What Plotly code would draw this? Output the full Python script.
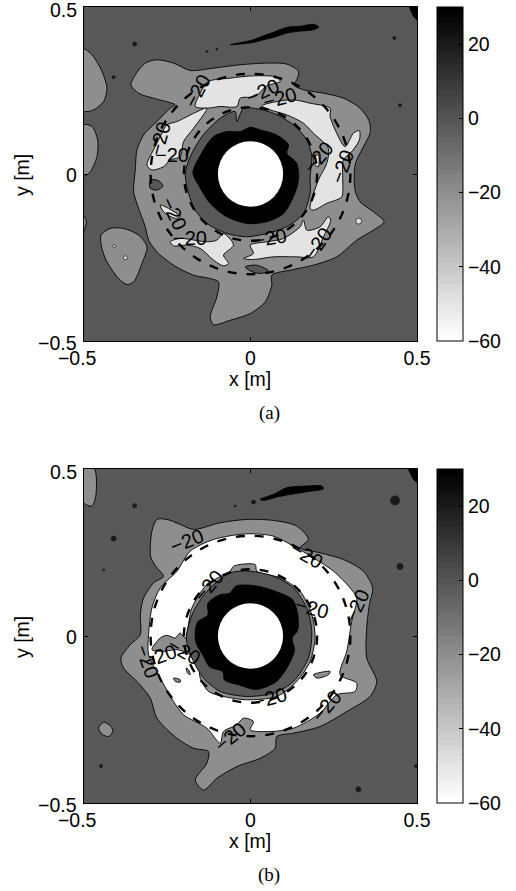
import plotly.graph_objects as go

# Panel (a): origin of the data axes lies at (511, 522); panel (b): at (511, 514).
ORIGIN_A = (511, 522)
ORIGIN_B = (511, 514)

LEVEL_BG = -1
LEVEL_MID = -20
LEVEL_LIGHT = -50
LEVEL_WHITE = -60
LEVEL_DARK = -1
LEVEL_BLACK = 30

a_mid = [(152,255),(165,225),(195,190),(230,180),(280,190),(330,212),(400,205),(480,195),(560,190),(620,193),(655,215),(650,240),(640,255),(670,270),(730,280),(790,295),(840,325),(868,365),(870,400),(850,440),(825,495),(825,570),(840,605),(880,635),(912,665),(880,690),(830,720),(770,770),(700,795),(640,808),(575,825),(575,855),(555,905),(510,940),(450,960),(400,973),(390,950),(410,890),(415,845),(390,835),(340,825),(280,795),(230,755),(205,720),(195,680),(175,625),(160,575),(165,510),(170,450),(190,405),(230,365),(270,325),(285,315),(230,298),(175,280)]
a_lobe1 = [(10,148),(35,165),(65,215),(80,265),(70,305),(40,330),(10,333)]
a_lobe2 = [(10,375),(35,380),(52,420),(50,470),(30,515),(10,528)]
a_lobe3 = [(10,645),(18,665),(10,695)]
a_lobe4 = [(62,705),(90,685),(130,685),(175,705),(200,740),(185,790),(160,845),(140,853),(115,835),(80,785),(65,745)]
a_light1 = [(345,320),(360,280),(385,245),(450,235),(520,228),(590,232),(600,245),(560,258),(525,290),(480,295),(470,320),(420,320),(380,325)]
a_light2 = [(545,318),(590,305),(640,300),(690,310),(750,325),(750,350),(770,400),(795,440),(820,400),(838,392),(838,420),(815,455),(790,480),(788,540),(785,590),(740,610),(700,630),(690,625),(715,540),(740,490),(745,445),(700,400),(670,370),(620,345),(570,330)]
a_light3 = [(200,495),(225,440),(245,400),(260,375),(290,365),(380,325),(340,385),(310,425),(300,470),(270,480),(250,500),(215,510)]
a_light4 = [(240,615),(265,625),(300,650),(285,655),(250,635)]
a_light5 = [(270,725),(300,715),(380,725),(410,720),(430,700),(460,735),(430,765),(445,790),(430,797),(400,780),(360,745),(320,735),(280,737)]
a_light6 = [(510,735),(560,725),(610,715),(660,680),(670,660),(680,690),(720,680),(745,650),(752,660),(730,710),(700,770),(650,770),(580,770),(520,778),(490,775),(520,760)]
a_light7 = [(700,470),(715,465),(715,500),(705,495)]
a_dark_disc = [(315,520),(330,470),(365,410),(420,355),(465,335),(470,365),(490,325),(520,325),(580,340),(640,375),(680,420),(695,470),(690,530),(690,580),(670,640),(620,680),(560,700),(500,710),(440,700),(380,670),(345,630),(325,580)]
a_dark_blob1 = [(495,800),(530,795),(565,812),(540,820),(510,812)]
a_dark_blob2 = [(210,540),(235,542),(248,558),(230,570),(210,565)]
a_black = [(338,518),(370,450),(400,410),(440,395),(480,395),(510,382),(540,390),(590,405),(625,435),(620,460),(650,490),(655,540),(640,590),(610,640),(560,665),(500,670),(440,650),(390,610),(355,555)]
a_streak = [(450,135),(490,127),(520,120),(545,110),(580,98),(620,83),(660,80),(700,74),(716,82),(700,90),(650,95),(620,100),(590,110),(550,120),(520,128)]
a_corner = [(988,22),(1012,22),(1012,62),(1000,50)]
a_black_dots_x = [163,100,380,410,943,960]
a_black_dots_y = [133,232,155,148,115,316]
a_black_dots_s = [4,3,2,2,3,3]
a_white_dots_x = [102,135,836]
a_white_dots_y = [738,773,663]
a_white_dots_s = [3,4,6]

b_mid = [(210,250),(215,200),(230,165),(260,165),(300,180),(340,195),(420,175),(500,165),(580,168),(650,185),(685,225),(660,250),(720,265),(790,285),(850,320),(878,370),(868,420),(860,490),(860,580),(890,650),(870,695),(800,740),(720,785),(640,805),(590,815),(585,850),(540,880),(470,905),(410,940),(370,975),(345,945),(380,895),(385,860),(340,850),(290,820),(230,760),(210,700),(170,650),(130,610),(122,580),(150,540),(180,510),(180,450),(190,400),(220,355),(250,335),(230,310),(212,280)]
b_lobe = [(10,14),(42,14),(47,90),(35,125),(10,115)]
b_ellipse = [(55,790),(70,772),(92,785),(97,800),(85,815),(65,808)]
b_white = [(205,510),(215,430),(240,370),(290,320),(330,260),(400,225),(500,208),(580,215),(640,245),(700,280),(760,320),(810,370),(830,400),(815,470),(800,560),(780,630),(830,655),(825,680),(770,690),(720,745),(640,790),(570,800),(510,795),(520,770),(490,760),(470,780),(430,800),(420,835),(380,790),(310,750),(280,710),(240,640),(205,570)]
b_inner_mid = [(315,520),(335,430),(380,360),(450,320),(460,305),(525,300),(530,320),(600,340),(660,380),(695,450),(705,520),(690,590),(650,650),(590,695),(500,705),(430,695),(385,680),(360,640),(355,600),(330,570),(290,555),(250,560),(215,555),(240,520),(260,512),(285,520),(300,505)]
b_dark_disc = [(318,520),(340,440),(385,375),(450,325),(510,320),(580,335),(640,370),(680,430),(695,500),(685,580),(640,650),(580,685),(500,695),(420,680),(370,640),(335,580)]
b_black = [(345,501),(353,471),(383,451),(383,416),(418,391),(448,386),(468,364),(528,364),(588,381),(638,406),(653,451),(653,496),(636,521),(643,556),(628,596),(588,651),(528,674),(478,661),(433,646),(428,621),(388,606),(368,571),(348,536)]
b_small1 = [(700,630),(750,620),(745,630),(710,640)]
b_small2 = [(280,640),(300,645),(300,652),(285,650)]
b_small3 = [(318,610),(325,615),(330,630),(322,625)]
b_streak = [(540,105),(580,90),(620,70),(680,65),(725,65),(730,73),(680,82),(630,90),(590,98),(550,108)]
b_corner = [(985,14),(1012,14),(1012,55),(1000,45)]
b_black_dots_x = [163,100,70,945,960,835,62,1008,465,520]
b_black_dots_y = [124,222,316,108,306,973,903,903,125,113]
b_black_dots_s = [4,5,2,9,6,5,3,3,2,4]

a_label_x = [352,240,275,550,600,715,785,280,330,570,715]
a_label_y = [275,415,465,275,295,470,500,640,715,715,730]
a_label_angle = [-62,-75,0,-25,-15,-50,-70,65,0,-10,-55]

b_label_x = [320,680,830,385,695,310,240,200,570,740,450]
b_label_y = [230,270,425,365,430,560,575,590,700,725,815]
b_label_angle = [-22,30,-65,-50,15,30,-20,70,-15,-50,-40]

RING_RADII = [0.2, 0.3]
HOLE_RADIUS = 0.098
TICKS = [-0.5, 0, 0.5]
XTICK_TEXT = ["−0.5\u2002\u2009", "0", "0.5"]
YTICK_TEXT = ["−0.5", "0", "0.5"]
YTICK_SHIFT = [-2, -1, -3]
CB_TICKS = [-60, -40, -20, 0, 20]
CB_MIN, CB_MAX = -60, 30
N_COLORS = 64


def gray(level):
    v = round(255 * (CB_MAX - level) / (CB_MAX - CB_MIN))
    return f"rgb({v},{v},{v})"


colorscale = []
for i in range(N_COLORS):
    v = round(255 * (N_COLORS - 1 - i) / (N_COLORS - 1))
    c = f"rgb({v},{v},{v})"
    colorscale += [[i / N_COLORS, c], [(i + 1) / N_COLORS, c]]

fig = go.Figure()
W, H = 516, 891
FONT = "Liberation Sans, Arial, sans-serif"
TICK_SIZE = 19.5


def to_x(vals, o):
    return [(v - o[0]) / 1000 for v in vals]


def to_y(vals, o):
    return [(o[1] - v) / 1000 for v in vals]


def poly(pts, level, o, ax, smooth=True):
    xs = to_x([p[0] for p in pts] + [pts[0][0]], o)
    ys = to_y([p[1] for p in pts] + [pts[0][1]], o)
    fig.add_trace(go.Scatter(
        x=xs, y=ys, xaxis=ax[0], yaxis=ax[1], mode="lines", fill="toself",
        fillcolor=gray(level), hoverinfo="skip", showlegend=False, cliponaxis=True,
        line=dict(color="black", width=0.9, shape="spline" if smooth else "linear", smoothing=0.8)))


def dots(xs, ys, sizes, color, o, ax):
    fig.add_trace(go.Scatter(
        x=to_x(xs, o), y=to_y(ys, o), xaxis=ax[0], yaxis=ax[1], mode="markers", showlegend=False,
        hoverinfo="skip", marker=dict(color=color, size=sizes, line=dict(color="black", width=0.8))))


AX_A = ("x", "y")
AX_B = ("x2", "y2")

for p, lev in [(a_lobe1, LEVEL_MID), (a_lobe2, LEVEL_MID), (a_lobe3, LEVEL_MID), (a_lobe4, LEVEL_MID),
               (a_mid, LEVEL_MID), (a_light1, LEVEL_LIGHT), (a_light2, LEVEL_LIGHT), (a_light3, LEVEL_LIGHT),
               (a_light4, LEVEL_LIGHT), (a_light5, LEVEL_LIGHT), (a_light6, LEVEL_LIGHT), (a_light7, LEVEL_LIGHT),
               (a_dark_blob1, LEVEL_DARK), (a_dark_blob2, LEVEL_DARK), (a_dark_disc, LEVEL_DARK),
               (a_black, LEVEL_BLACK), (a_streak, LEVEL_BLACK)]:
    poly(p, lev, ORIGIN_A, AX_A)
poly(a_corner, LEVEL_BLACK, ORIGIN_A, AX_A, smooth=False)
dots(a_black_dots_x, a_black_dots_y, a_black_dots_s, "black", ORIGIN_A, AX_A)
dots(a_white_dots_x, a_white_dots_y, a_white_dots_s, "white", ORIGIN_A, AX_A)

for p, lev in [(b_lobe, LEVEL_MID), (b_ellipse, LEVEL_MID), (b_mid, LEVEL_MID), (b_white, LEVEL_WHITE),
               (b_inner_mid, LEVEL_MID), (b_dark_disc, LEVEL_DARK), (b_black, LEVEL_BLACK),
               (b_small1, LEVEL_MID), (b_small2, LEVEL_MID), (b_small3, LEVEL_MID), (b_streak, LEVEL_BLACK)]:
    poly(p, lev, ORIGIN_B, AX_B)
poly(b_corner, LEVEL_BLACK, ORIGIN_B, AX_B, smooth=False)
dots(b_black_dots_x, b_black_dots_y, b_black_dots_s, "black", ORIGIN_B, AX_B)

for top, bottom in [(7, 341), (469, 803)]:
    fig.add_trace(go.Scatter(
        x=[None, None], y=[None, None], mode="markers", showlegend=False, hoverinfo="skip",
        marker=dict(color=[CB_MIN, CB_MAX], cmin=CB_MIN, cmax=CB_MAX, colorscale=colorscale, showscale=True,
                    colorbar=dict(x=437 / W, xanchor="left", xpad=0, ypad=0,
                                  y=1 - top / H, yanchor="top", len=(bottom - top) / H, lenmode="fraction",
                                  thickness=26, thicknessmode="pixels", outlinecolor="black", outlinewidth=1,
                                  tickvals=CB_TICKS, ticks="inside", ticklen=4, tickcolor="black",
                                  tickfont=dict(family=FONT, size=TICK_SIZE, color="black"), bgcolor="rgba(0,0,0,0)"))))

shapes = []
for xr, yr in [("x", "y"), ("x2", "y2")]:
    for r in RING_RADII:
        shapes.append(dict(type="circle", xref=xr, yref=yr, x0=-r, x1=r, y0=-r, y1=r, layer="above",
                           line=dict(color="black", width=2.4, dash="9px,10px")))
    shapes.append(dict(type="circle", xref=xr, yref=yr, x0=-HOLE_RADIUS, x1=HOLE_RADIUS,
                       y0=-HOLE_RADIUS, y1=HOLE_RADIUS, layer="above", fillcolor="white",
                       line=dict(color="white", width=0)))

annotations = []
for xs, ys, angs, o, xr, yr in [(a_label_x, a_label_y, a_label_angle, ORIGIN_A, "x", "y"),
                                (b_label_x, b_label_y, b_label_angle, ORIGIN_B, "x2", "y2")]:
    for x, y, ang in zip(to_x(xs, o), to_y(ys, o), angs):
        annotations.append(dict(x=x, y=y, xref=xr, yref=yr, text="−20", textangle=ang, showarrow=False,
                                font=dict(family=FONT, size=20, color="black")))
for text, ypx in [("(a)", 413), ("(b)", 875)]:
    annotations.append(dict(x=269 / W, y=1 - ypx / H, xref="paper", yref="paper", text=text, showarrow=False,
                            xanchor="center", yanchor="middle",
                            font=dict(family="Liberation Serif, Times New Roman, serif", size=19, color="black")))
for text, xpx, ypx, ang in [("x [m]", 250, 379, 0), ("y [m]", 22, 175, -90),
                            ("x [m]", 250, 841, 0), ("y [m]", 22, 637, -90)]:
    annotations.append(dict(x=xpx / W, y=1 - ypx / H, xref="paper", yref="paper", text=text, textangle=ang,
                            xanchor="center", yanchor="middle",
                            showarrow=False, font=dict(family=FONT, size=TICK_SIZE, color="black")))
for yr in ["y", "y2"]:
    for val, text, shift in zip(TICKS, YTICK_TEXT, YTICK_SHIFT):
        annotations.append(dict(x=79 / W, y=val, xref="paper", yref=yr, text=text, showarrow=False,
                                xanchor="right", yanchor="middle", yshift=shift,
                                font=dict(family=FONT, size=TICK_SIZE, color="black")))

axis_common = dict(range=[-0.5, 0.5], tickvals=TICKS, showgrid=False, zeroline=False, showline=True,
                   linecolor="black", linewidth=1, mirror="ticks", ticks="inside", ticklen=4, tickcolor="black",
                   automargin=False, ticklabeloverflow="allow", tickfont=dict(family=FONT, size=TICK_SIZE, color="black"))
xaxis_extra = dict(ticktext=XTICK_TEXT, tickmode="array")
yaxis_extra = dict(showticklabels=False)
xdom = [84 / W, 417 / W]
fig.update_layout(
    width=W, height=H, autosize=False, margin=dict(l=0, r=0, t=0, b=0),
    paper_bgcolor="white", plot_bgcolor=gray(LEVEL_BG), showlegend=False,
    shapes=shapes, annotations=annotations,
    xaxis=dict(axis_common, **xaxis_extra, domain=xdom, anchor="y"),
    yaxis=dict(axis_common, **yaxis_extra, domain=[1 - 341 / H, 1 - 7 / H], anchor="x"),
    xaxis2=dict(axis_common, **xaxis_extra, domain=xdom, anchor="y2"),
    yaxis2=dict(axis_common, **yaxis_extra, domain=[1 - 803 / H, 1 - 469 / H], anchor="x2"),
)
fig.write_html("out.html", post_script="document.body.style.margin='0';", config={"displayModeBar": False})
